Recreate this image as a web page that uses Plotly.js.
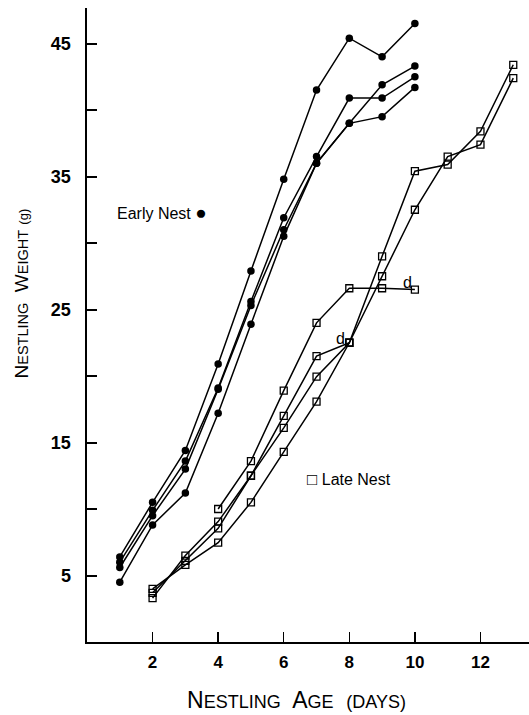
<!DOCTYPE html>
<html>
<head>
<meta charset="utf-8">
<script src="https://cdn.plot.ly/plotly-3.0.1.min.js"></script>
<style>html,body{margin:0;padding:0;background:#fff;}#chart{width:529px;height:715px;}</style>
</head>
<body>
<div id="chart"></div>
<script>
// Early nest (filled circles), days 1-10
const earlyDays = [1, 2, 3, 4, 5, 6, 7, 8, 9, 10];
const early1 = [6.4, 10.5, 14.4, 20.9, 27.9, 34.8, 41.5, 45.4, 44.0, 46.5];
const early2 = [6.0, 9.9, 13.6, 19.1, 25.6, 31.9, 36.5, 40.9, 40.9, 42.5];
const early3 = [5.6, 9.5, 13.0, 19.0, 25.3, 31.0, 36.0, 39.0, 41.9, 43.3];
const early4 = [4.5, 8.8, 11.2, 17.2, 23.9, 30.5, 36.0, 39.0, 39.5, 41.7];

// Late nest (open squares)
const lateDaysE = [4, 5, 6, 7, 8, 9, 10];
const lateE = [10.0, 13.6, 18.9, 24.0, 26.6, 26.6, 26.5];
const lateDaysF = [2, 3, 4, 5, 6, 7, 8];
const lateF = [3.3, 6.5, 9.05, 12.5, 17.0, 21.5, 22.5];
const lateDaysGH = [2, 3, 4, 5, 6, 7, 8, 9, 10, 11, 12, 13];
const lateG = [3.7, 6.1, 8.55, 12.5, 16.1, 19.95, 22.5, 29.0, 35.4, 35.9, 38.4, 43.4];
const lateH = [4.0, 5.8, 7.47, 10.5, 14.3, 18.07, 22.5, 27.5, 32.5, 36.5, 37.4, 42.4];

// Axis ticks
const xTicks = [2, 4, 6, 8, 10, 12];
const yTicks = [5, 15, 25, 35, 45];
const yMinorTicks = [10, 20, 30, 40];

// Label positions (data coords)
const earlyLabel = {x: 2.28, y: 32.3, text: 'Early Nest <span style="font-size:19px">●</span>'};
const lateLabel = {x: 8.0, y: 12.2, text: '<span style="font-size:17px">□</span> Late Nest'};
const deadLabels = [{x: 7.72, y: 22.8}, {x: 9.77, y: 27.0}];

const lineStyle = {color: '#000', width: 1.5};
function earlyTrace(y) {
  return {x: earlyDays, y: y, mode: 'lines+markers', type: 'scatter', line: lineStyle,
    marker: {symbol: 'circle', size: 7.5, color: '#000'}, showlegend: false, hoverinfo: 'skip', cliponaxis: false};
}
function lateTrace(x, y) {
  return {x: x, y: y, mode: 'lines+markers', type: 'scatter', line: lineStyle,
    marker: {symbol: 'square-open', size: 7, color: '#000', line: {width: 1.3, color: '#000'}},
    showlegend: false, hoverinfo: 'skip', cliponaxis: false};
}

const traces = [
  earlyTrace(early1), earlyTrace(early2), earlyTrace(early3), earlyTrace(early4),
  lateTrace(lateDaysE, lateE), lateTrace(lateDaysF, lateF),
  lateTrace(lateDaysGH, lateG), lateTrace(lateDaysGH, lateH)
];

const font = 'Liberation Sans, Arial, Helvetica, sans-serif';
const annotations = [
  {x: earlyLabel.x, y: earlyLabel.y, xref: 'x', yref: 'y', text: earlyLabel.text, showarrow: false,
    font: {family: font, size: 16, color: '#000'}, xanchor: 'center', yanchor: 'middle'},
  {x: lateLabel.x, y: lateLabel.y, xref: 'x', yref: 'y', text: lateLabel.text, showarrow: false,
    font: {family: font, size: 16, color: '#000'}, xanchor: 'center', yanchor: 'middle'},
  {x: 0.475, y: -0.092, xref: 'paper', yref: 'paper', showarrow: false, xanchor: 'center', yanchor: 'middle',
    text: 'N<span style="font-size:18px">ESTLING</span>  A<span style="font-size:18px">GE</span>  <span style="font-size:18px">(DAYS)</span>',
    font: {family: font, size: 23, color: '#000'}},
  {x: -0.148, y: 0.549, xref: 'paper', yref: 'paper', showarrow: false, xanchor: 'center', yanchor: 'middle', textangle: -90,
    text: 'N<span style="font-size:14.5px">ESTLING</span>  W<span style="font-size:14.5px">EIGHT</span> <span style="font-size:13px">(g)</span>',
    font: {family: font, size: 19, color: '#000'}}
];
deadLabels.forEach(d => annotations.push({x: d.x, y: d.y, xref: 'x', yref: 'y', text: 'd', showarrow: false,
  font: {family: font, size: 16, color: '#000'}, xanchor: 'center', yanchor: 'middle'}));

const layout = {
  width: 529, height: 715,
  margin: {l: 87, r: 0, t: 8, b: 73},
  paper_bgcolor: '#fff', plot_bgcolor: '#fff',
  showlegend: false,
  font: {family: font, color: '#000'},
  xaxis: {range: [0, 13.48], showgrid: false, zeroline: false, showline: true, linecolor: '#000', linewidth: 2,
    tickmode: 'array', tickvals: xTicks, ticktext: xTicks.map(String), ticks: 'inside', ticklen: 10, tickwidth: 1.5, tickcolor: '#000',
    tickfont: {family: font, size: 17, weight: 'bold', color: '#000'}, ticklabelstandoff: 4},
  yaxis: {range: [0, 47.67], showgrid: false, zeroline: false, showline: true, linecolor: '#000', linewidth: 2.5,
    tickmode: 'array', tickvals: yTicks, ticktext: yTicks.map(String), ticks: 'inside', ticklen: 10, tickwidth: 2, tickcolor: '#000',
    tickfont: {family: font, size: 18, weight: 'bold', color: '#000'}, ticklabelstandoff: 10,
    minor: {tickmode: 'array', tickvals: yMinorTicks, ticks: 'inside', ticklen: 10, tickwidth: 2, tickcolor: '#000', showgrid: false}},
  annotations: annotations
};

Plotly.newPlot('chart', traces, layout, {staticPlot: true, displayModeBar: false});
</script>
</body>
</html>
